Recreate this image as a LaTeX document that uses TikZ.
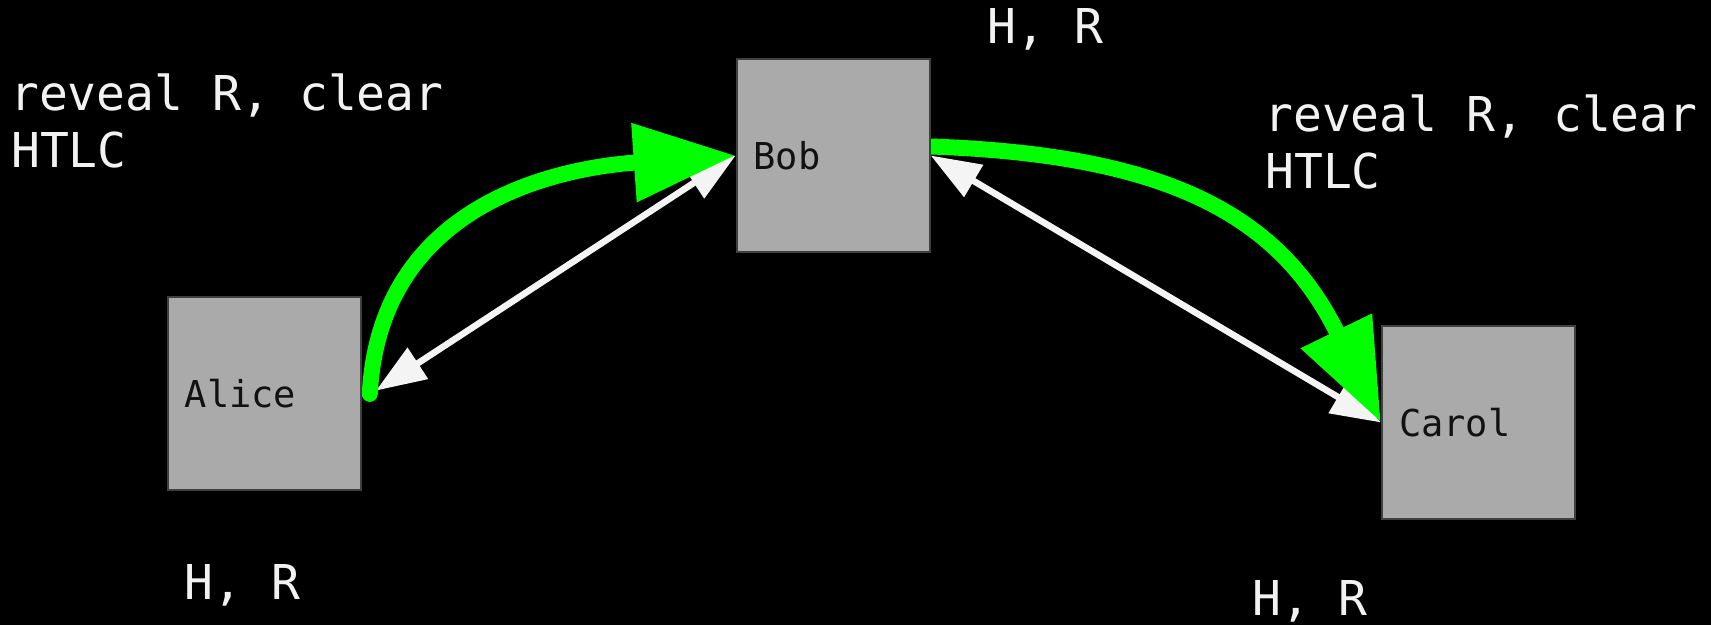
\documentclass[tikz,border=0pt]{standalone}
\usepackage{fontspec}
\newfontfamily\monofnt{DejaVu Sans Mono}
\usetikzlibrary{arrows.meta,backgrounds}
\definecolor{boxfill}{HTML}{AAAAAA}
\definecolor{boxline}{HTML}{404040}
\definecolor{arrwhite}{HTML}{F4F4F4}
\definecolor{arrgreen}{HTML}{00FF00}
\definecolor{txtwhite}{HTML}{F2F2F2}
\definecolor{txtdark}{HTML}{111111}
\begin{document}
\begin{tikzpicture}[x=1pt,y=1pt,
  party/.style={draw=boxline, line width=2pt, fill=boxfill, rectangle,
    minimum width=193pt, minimum height=193pt, text width=159pt,
    inner xsep=17pt, inner ysep=0pt, align=left,
    font=\monofnt\fontsize{37}{44}\selectfont, text=txtdark},
  lbl/.style={anchor=base west, inner sep=0pt, text=txtwhite,
    font=\monofnt\fontsize{48}{57}\selectfont},
  wline/.style={draw=arrwhite, line width=6.5pt,
    {Triangle[length=50pt,width=36pt]}-{Triangle[length=50pt,width=36pt]}},
  gline/.style={draw=arrgreen, line width=16pt, line cap=round,
    -{Triangle[length=102pt,width=75pt]}}
]
\useasboundingbox (0,0) rectangle (1711,625);
\begin{scope}[on background layer]
  \fill[black] (0,0) rectangle (1711,625);
\end{scope}

\node[party] (alice) at (264.3,231.1) {Alice};
\node[party] (bob)   at (833.2,469.5) {Bob};
\node[party] (carol) at (1478.5,202.5) {Carol};

\node[lbl] (tl1) at (10,514) {reveal R, clear};
\node[lbl] (tl2) at (11,457) {HTLC};
\node[lbl] (tr1) at (1264,493.5) {reveal R, clear};
\node[lbl] (tr2) at (1265,436) {HTLC};
\node[lbl] (hrb) at (987.5,581) {H, R};
\node[lbl] (hra) at (184.5,26) {H, R};
\node[lbl] (hrc) at (1252,10) {H, R};

\begin{scope}[on background layer]
  \draw[wline, shorten <=17pt] ([yshift=-6pt]alice.east) -- (bob.west);
  \draw[wline] (bob.east) -- (carol.west);
  \draw[gline] ([xshift=8pt]alice.east) .. controls +(87:205) and +(184:150) .. (bob.west);
  \draw[gline] ([yshift=9pt]bob.east) .. controls +(-2:230) and +(116:235) .. (carol.west);
\end{scope}
\end{tikzpicture}
\end{document}
